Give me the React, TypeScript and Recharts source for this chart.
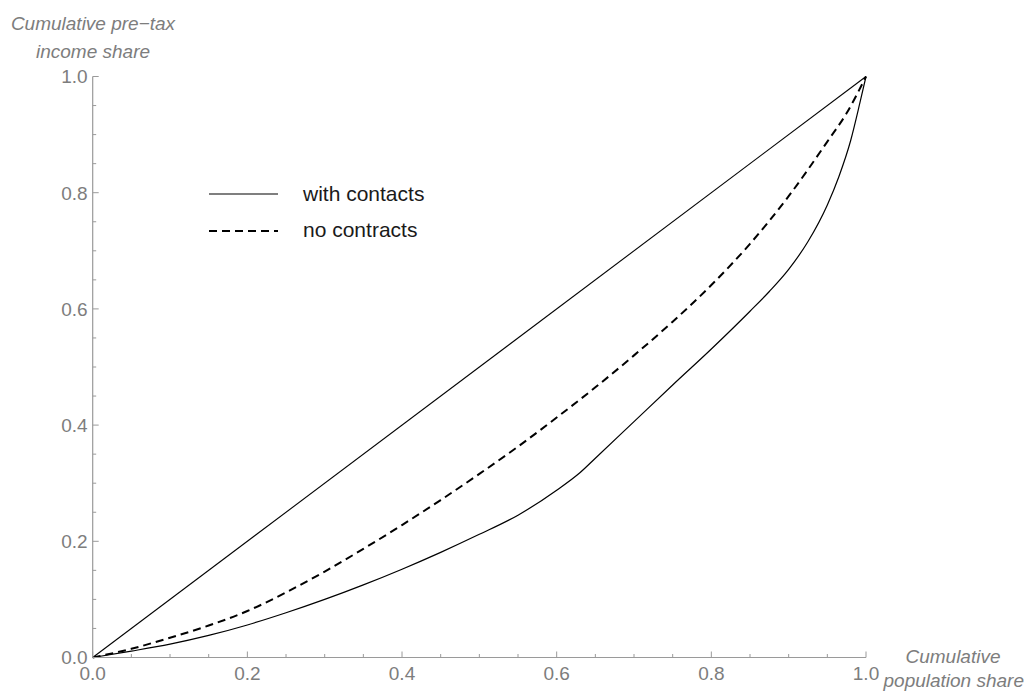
import React from "react";
import { LineChart, Line, XAxis, YAxis, Legend, Customized } from "recharts";

// Lorenz curves of cumulative pre-tax income against cumulative population share
const equalityX = [0, 1];
const equalityY = [0, 1];

const withContactsX = [0, 0.05, 0.1, 0.15, 0.2, 0.25, 0.3, 0.35, 0.4, 0.45, 0.5, 0.55, 0.6, 0.63, 0.65, 0.7, 0.75, 0.8, 0.85, 0.875, 0.9, 0.925, 0.95, 0.965, 0.98, 0.992, 1];
const withContactsY = [0, 0.011, 0.023, 0.038, 0.056, 0.077, 0.1, 0.125, 0.152, 0.181, 0.212, 0.245, 0.288, 0.318, 0.343, 0.406, 0.469, 0.531, 0.596, 0.63, 0.668, 0.716, 0.779, 0.828, 0.889, 0.954, 1];

const noContractsX = [0, 0.05, 0.1, 0.15, 0.2, 0.25, 0.3, 0.35, 0.4, 0.45, 0.5, 0.55, 0.6, 0.65, 0.7, 0.75, 0.8, 0.85, 0.9, 0.95, 0.975, 1];
const noContractsY = [0, 0.015, 0.034, 0.055, 0.08, 0.112, 0.148, 0.187, 0.228, 0.271, 0.316, 0.363, 0.413, 0.465, 0.52, 0.578, 0.641, 0.712, 0.794, 0.888, 0.937, 1];

const axisTicks = [0, 0.05, 0.1, 0.15, 0.2, 0.25, 0.3, 0.35, 0.4, 0.45, 0.5, 0.55, 0.6, 0.65, 0.7, 0.75, 0.8, 0.85, 0.9, 0.95, 1];

const seriesNames = ["with contacts", "no contracts"];
const yTitle = ["Cumulative pre\u2212tax", "income share"];
const xTitle = ["Cumulative", "population share"];

const toPoints = (xs: number[], ys: number[]) => xs.map((x, i) => ({ x, y: ys[i] }));
const equalityData = toPoints(equalityX, equalityY);
const withContactsData = toPoints(withContactsX, withContactsY);
const noContractsData = toPoints(noContractsX, noContractsY);

const AXIS = "#9a9a9a";
const TEXT = "#7d7d7d";
const FONT = "'Liberation Sans', Arial, sans-serif";

const isMajor = (v: number) => Math.abs(v * 5 - Math.round(v * 5)) < 1e-6;

const YTick = (props: any) => {
  const { x, y, payload } = props;
  const v = payload.value as number;
  const major = isMajor(v);
  return (
    <g>
      <line x1={x} y1={y} x2={x + (major ? 6 : 3.5)} y2={y} stroke={AXIS} strokeWidth={1} />
      {major && (
        <text x={x - 5} y={y + 6.8} textAnchor="end" fill={TEXT} fontSize={19} fontFamily={FONT}>
          {v.toFixed(1)}
        </text>
      )}
    </g>
  );
};

const XTick = (props: any) => {
  const { x, y, payload } = props;
  const v = payload.value as number;
  const major = isMajor(v);
  return (
    <g>
      <line x1={x} y1={y} x2={x} y2={y - (major ? 6 : 3.5)} stroke={AXIS} strokeWidth={1} />
      {major && (
        <text x={x} y={y + 22.5} textAnchor="middle" fill={TEXT} fontSize={19} fontFamily={FONT}>
          {v.toFixed(1)}
        </text>
      )}
    </g>
  );
};

const LegendBox = () => (
  <svg width={240} height={80}>
    <line x1={11} y1={18} x2={80} y2={18} stroke="#000" strokeWidth={1.2} />
    <text x={105} y={25} fontSize={21} fill="#1a1a1a" fontFamily={FONT}>{seriesNames[0]}</text>
    <line x1={11} y1={55} x2={80} y2={55} stroke="#000" strokeWidth={2} strokeDasharray="8 5" />
    <text x={105} y={61} fontSize={21} fill="#1a1a1a" fontFamily={FONT}>{seriesNames[1]}</text>
  </svg>
);

const AxisTitles = () => (
  <g fontFamily={FONT} fontStyle="italic" fontSize={19} fill={TEXT}>
    <text x={93} y={30} textAnchor="middle">{yTitle[0]}</text>
    <text x={93} y={58} textAnchor="middle">{yTitle[1]}</text>
    <text x={953} y={663} textAnchor="middle">{xTitle[0]}</text>
    <text x={1024} y={687} textAnchor="end">{xTitle[1]}</text>
  </g>
);

export default function App() {
  return (
    <>
      <style>{`body { margin: 0; }`}</style>
      <LineChart
        width={1025}
        height={693}
        margin={{ top: 76.5, right: 159, bottom: 5.5, left: 42.7 }}
        style={{ fontFamily: FONT }}
      >
        <XAxis
          dataKey="x"
          type="number"
          domain={[0, 1]}
          ticks={axisTicks}
          interval={0}
          tickSize={0}
          tickMargin={0}
          tickLine={false}
          tick={<XTick />}
          axisLine={{ stroke: AXIS, strokeWidth: 1.2 }}
          height={30}
          allowDuplicatedCategory={false}
        />
        <YAxis
          dataKey="y"
          type="number"
          domain={[0, 1]}
          ticks={axisTicks}
          interval={0}
          tickSize={0}
          tickMargin={0}
          tickLine={false}
          tick={<YTick />}
          axisLine={{ stroke: AXIS, strokeWidth: 1.2 }}
          width={50}
        />
        <Line data={equalityData} dataKey="y" type="linear" stroke="#000" strokeWidth={1.1} dot={false} isAnimationActive={false} legendType="none" />
        <Line data={withContactsData} dataKey="y" type="monotone" stroke="#000" strokeWidth={1.2} dot={false} isAnimationActive={false} />
        <Line data={noContractsData} dataKey="y" type="monotone" stroke="#000" strokeWidth={2} strokeDasharray="8 5" dot={false} isAnimationActive={false} />
        <Legend
          layout="vertical"
          align="center"
          verticalAlign="middle"
          content={<LegendBox />}
          wrapperStyle={{ left: 198, top: 176, width: 240, height: 80 }}
        />
        <Customized component={<AxisTitles />} />
      </LineChart>
    </>
  );
}
